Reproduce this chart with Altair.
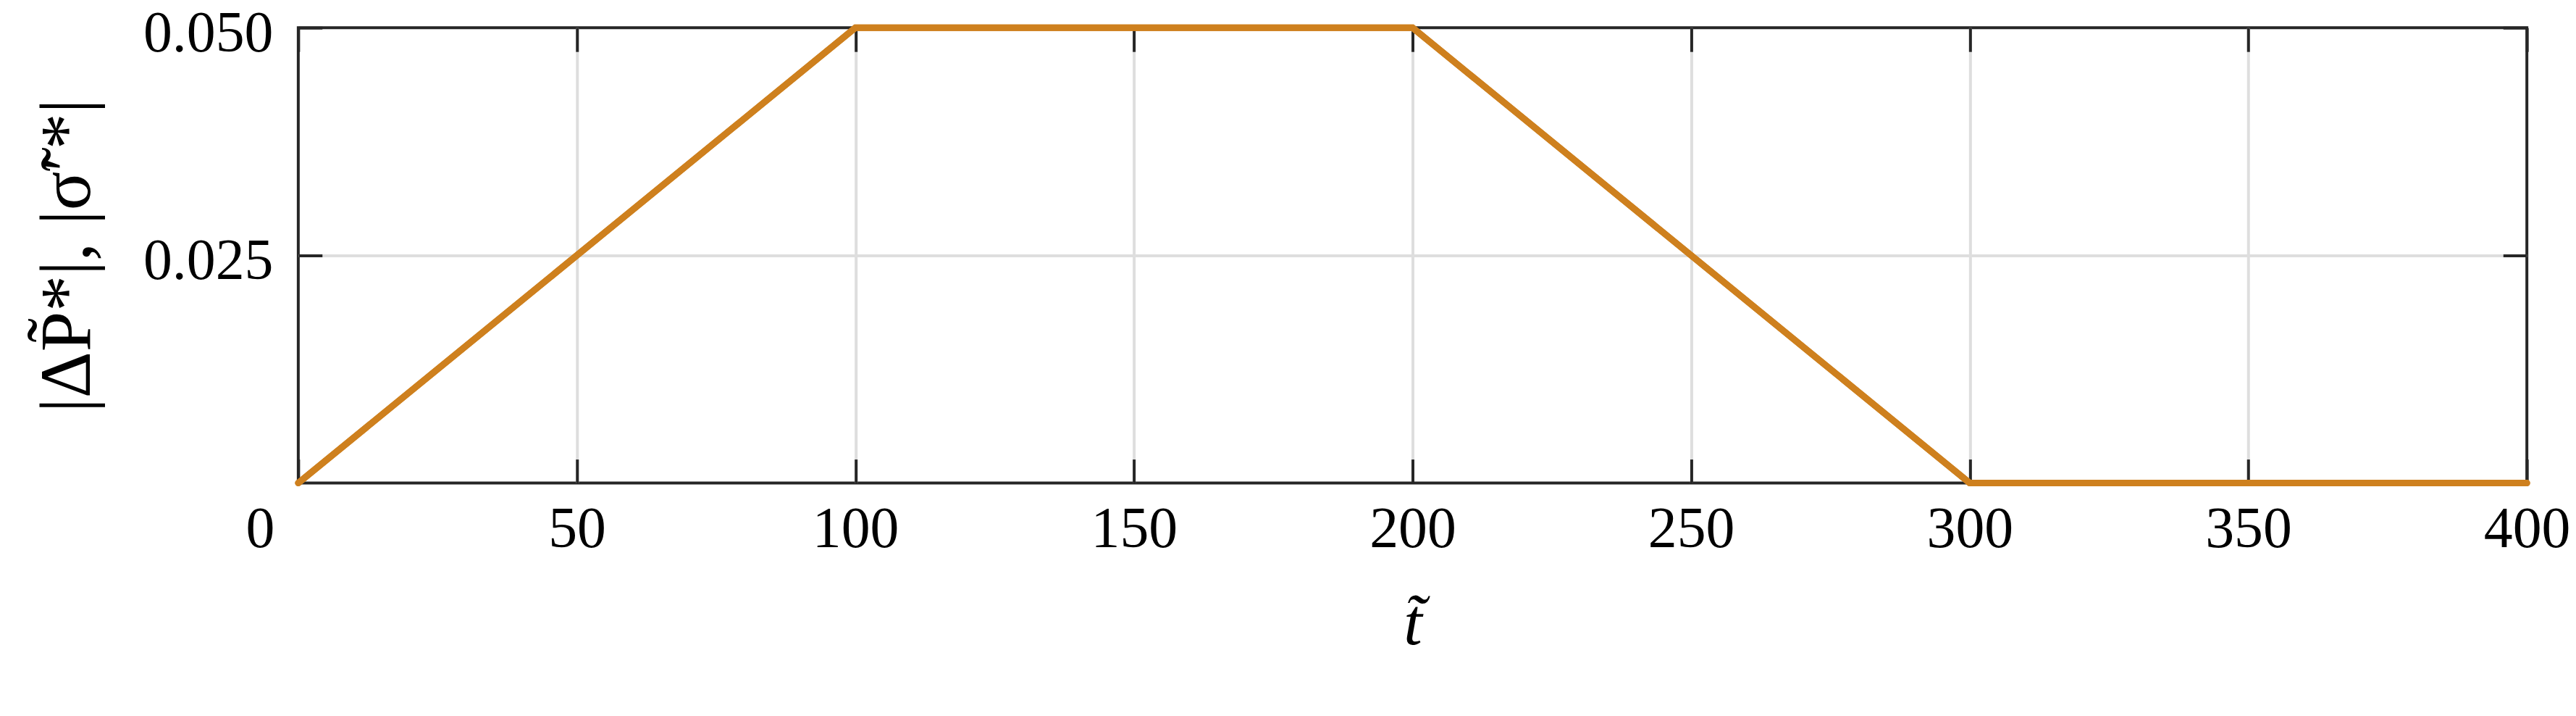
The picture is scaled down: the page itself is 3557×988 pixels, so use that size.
import altair as alt
import pandas as pd

# ---- data ----
t_vals = [0, 100, 200, 300, 400]
amp_vals = [0.0, 0.05, 0.05, 0.0, 0.0]
x_ticks = [0, 50, 100, 150, 200, 250, 300, 350, 400]
y_ticks = [0.025, 0.05]

df = pd.DataFrame({"t": t_vals, "a": amp_vals})

FONT = "Liberation Serif"
FRAME = "#262626"
GRID = "#dedede"
LINE = "#CE801E"
TICK = 33

x_scale = alt.Scale(domain=[0, 400], nice=False, zero=False)
y_scale = alt.Scale(domain=[0, 0.05], nice=False, zero=False)

common_tick = dict(tickSize=TICK, tickWidth=4, tickColor=FRAME, offset=-TICK, domain=False)

x_bottom = alt.Axis(
    orient="bottom", values=x_ticks, format="d", grid=True, gridColor=GRID, gridWidth=4,
    gridOpacity={"condition": {"test": "datum.value <= 0 || datum.value >= 400", "value": 0}, "value": 1},
    labelFont=FONT, labelFontSize=80, labelColor="black", labelPadding=25, labelFlush=False,
    labelLimit=0,
    labelOffset={"condition": {"test": "datum.value == 0", "value": -53}, "value": 0},
    title="t\u0303", titleFont=FONT, titleFontSize=92, titleFontStyle="italic",
    titleFontWeight="normal", titleColor="black", titleBaseline="alphabetic", titleY=256,
    **common_tick,
)
y_left = alt.Axis(
    orient="left", values=y_ticks, format=".3f", grid=True, gridColor=GRID, gridWidth=4,
    gridOpacity={"condition": {"test": "datum.value >= 0.049", "value": 0}, "value": 1},
    labelFont=FONT, labelFontSize=80, labelColor="black", labelPadding=35, labelFlush=False,
    labelLimit=0, labelOffset=8,
    title="|\u0394P\u0303*|, |\u03c3\u0303\u2032\u200a*|", titleFont=FONT, titleFontSize=100,
    titleFontWeight="normal", titleColor="black", titleAngle=270, titleBaseline="alphabetic",
    titleAlign="center", titleX=-322, titleY=315, titleLimit=0,
    **common_tick,
)
x_top = alt.Axis(orient="top", values=x_ticks, labels=False, grid=False, title=None, **common_tick)
y_right = alt.Axis(orient="right", values=y_ticks, labels=False, grid=False, title=None, **common_tick)

main = alt.Chart(df).mark_line(color=LINE, strokeWidth=9, strokeCap="round").encode(
    x=alt.X("t:Q", scale=x_scale, axis=x_bottom),
    y=alt.Y("a:Q", scale=y_scale, axis=y_left),
)
mirror = alt.Chart(df).mark_line(color=LINE, strokeWidth=9, strokeCap="round").encode(
    x=alt.X("t:Q", scale=x_scale, axis=x_top),
    y=alt.Y("a:Q", scale=y_scale, axis=y_right),
)

chart = (
    alt.layer(main, mirror)
    .resolve_axis(x="independent", y="independent")
    .properties(
        width=3086,
        height=630,
        autosize=alt.AutoSizeParams(type="none"),
        padding={"left": 405, "top": 29, "right": 60, "bottom": 313},
        background="white",
    )
    .configure_view(stroke=FRAME, strokeWidth=4)
)

chart.save("out.html", embed_options={"renderer": "svg", "actions": False})
